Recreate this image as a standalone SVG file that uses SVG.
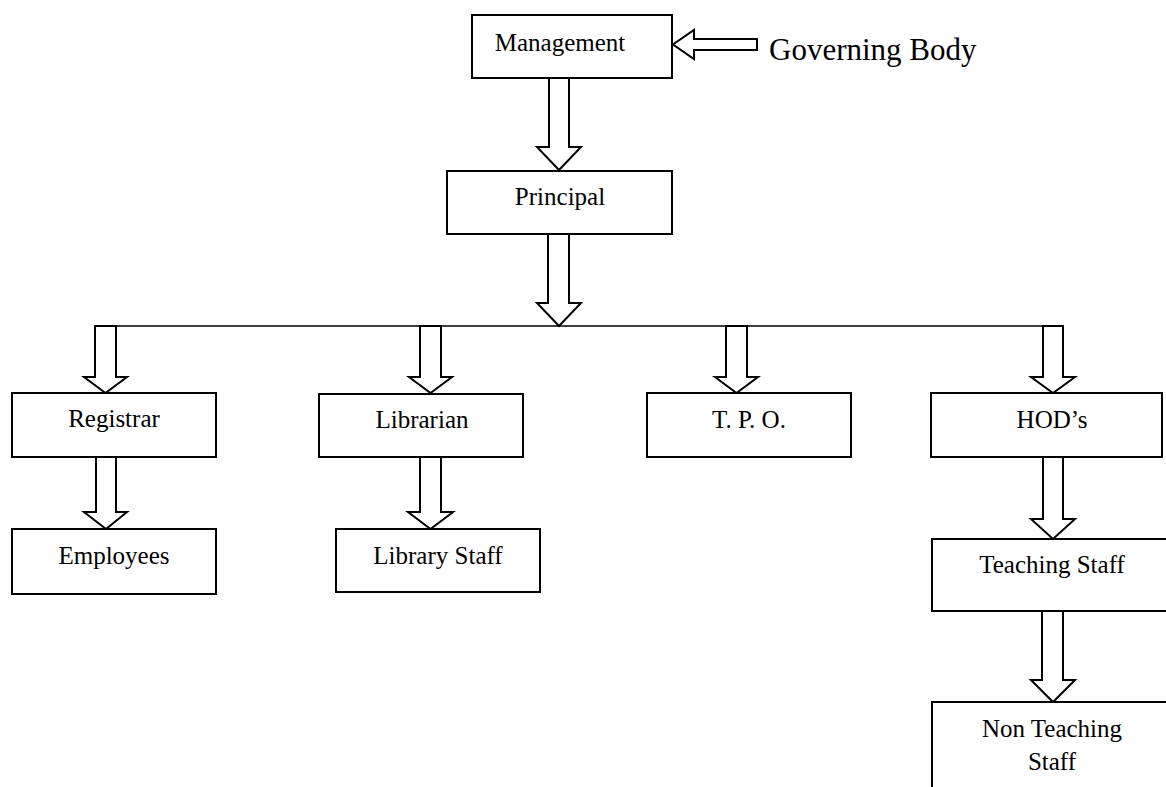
<svg xmlns="http://www.w3.org/2000/svg" width="1166" height="787" viewBox="0 0 1166 787">
<style>
.box{fill:#fff;stroke:#000;stroke-width:2}
.arr{fill:#fff;stroke:#000;stroke-width:2;stroke-linejoin:miter}
.bar{stroke:#000;stroke-width:1.6;fill:none}
.t{font-family:"Liberation Serif","Times New Roman",serif;font-size:25px;fill:#000;text-anchor:middle}
.gb{font-family:"Liberation Serif","Times New Roman",serif;font-size:31px;fill:#000}
</style>
<rect width="1166" height="787" fill="#fff"/>
<g id="connectors">
<line class="bar" x1="94" y1="326" x2="1063" y2="326"/>
<polygon class="arr" points="757,39 694,39 694,30 673,44.5 694,59 694,50 757,50"/>
<polygon class="arr" points="549,78 569,78 569,147 581,147 559,170 537,147 549,147"/>
<polygon class="arr" points="548,234 569,234 569,303 581,303 559,326 537,303 548,303"/>
<polygon class="arr" points="95,326 116,326 116,377 127,377 105.5,393 84,377 95,377"/>
<polygon class="arr" points="420,326 441,326 441,377 452,377 430.5,393 409,377 420,377"/>
<polygon class="arr" points="726,326 747,326 747,377 758,377 736.5,393 715,377 726,377"/>
<polygon class="arr" points="1043,326 1063,326 1063,377 1075,377 1053,393 1031,377 1043,377"/>
<polygon class="arr" points="96,457 116,457 116,512 127,512 106,529 84,512 96,512"/>
<polygon class="arr" points="420,457 441,457 441,512 453,512 430.5,529 408,512 420,512"/>
<polygon class="arr" points="1043,457 1063,457 1063,519 1075,519 1053,539 1031,519 1043,519"/>
<polygon class="arr" points="1042,611 1063,611 1063,680 1075,680 1053,702 1031,680 1042,680"/>
</g>
<g id="governing-body"><text class="gb" x="769" y="60">Governing Body</text></g>
<g id="management"><rect class="box" x="472" y="15" width="200" height="63"/><text class="t" x="560" y="51">Management</text></g>
<g id="principal"><rect class="box" x="447" y="171" width="225" height="63"/><text class="t" x="560" y="205">Principal</text></g>
<g id="registrar"><rect class="box" x="12" y="393" width="204" height="64"/><text class="t" x="114" y="427">Registrar</text></g>
<g id="librarian"><rect class="box" x="319" y="394" width="204" height="63"/><text class="t" x="422" y="428">Librarian</text></g>
<g id="tpo"><rect class="box" x="647" y="393" width="204" height="64"/><text class="t" x="749" y="428">T. P. O.</text></g>
<g id="hods"><rect class="box" x="931" y="393" width="231" height="64"/><text class="t" x="1052" y="428">HOD’s</text></g>
<g id="employees"><rect class="box" x="12" y="529" width="204" height="65"/><text class="t" x="114" y="564">Employees</text></g>
<g id="library-staff"><rect class="box" x="336" y="529" width="204" height="63"/><text class="t" x="438" y="564">Library Staff</text></g>
<g id="teaching-staff"><rect class="box" x="932" y="539" width="240" height="72"/><text class="t" x="1052" y="573">Teaching Staff</text></g>
<g id="non-teaching-staff"><rect class="box" x="932" y="702" width="240" height="100"/><text class="t" x="1052" y="737">Non Teaching</text><text class="t" x="1052" y="770">Staff</text></g>
</svg>
